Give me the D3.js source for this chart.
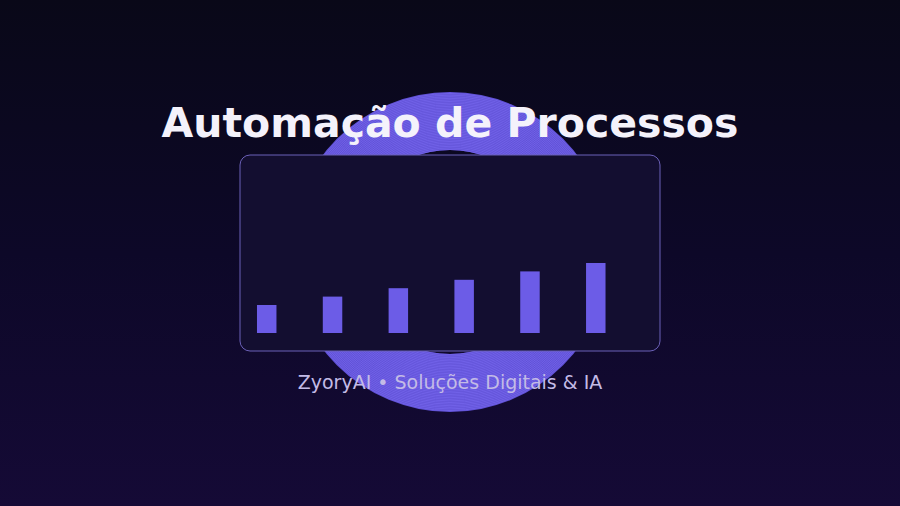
<!DOCTYPE html>
<html>
<head>
<meta charset="utf-8">
<script src="https://cdn.jsdelivr.net/npm/d3@7"></script>
<style>
  html, body { margin: 0; padding: 0; background: #0a0818; }
  svg { display: block; }
</style>
</head>
<body>
<svg id="chart" width="900" height="506"></svg>
<script>
// data
const steps = ["1", "2", "3", "4", "5", "6"];
const values = [40, 52, 64, 76, 88, 100];
const titleText = "Automação de Processos";
const subtitleText = "ZyoryAI • Soluções Digitais & IA";

const svg = d3.select("#chart");
const W = 900, H = 506;
const defs = svg.append("defs");

// background gradient
const bg = defs.append("linearGradient")
    .attr("id", "bg").attr("x1", 0).attr("y1", 0).attr("x2", 0).attr("y2", 1);
bg.append("stop").attr("offset", "0%").attr("stop-color", "#090818");
bg.append("stop").attr("offset", "50%").attr("stop-color", "#0d0828");
bg.append("stop").attr("offset", "100%").attr("stop-color", "#150a36");
svg.append("rect").attr("width", W).attr("height", H).attr("fill", "url(#bg)");

// ring behind the card
const cx = 450, cy = 252, rIn = 102, rOut = 160;
const ring = svg.append("g").attr("transform", `translate(${cx},${cy})`);
ring.append("path")
    .attr("d", d3.arc()({innerRadius: rIn, outerRadius: rOut, startAngle: 0, endAngle: 2 * Math.PI}))
    .attr("fill", "#6152d6");
ring.selectAll("circle")
    .data(d3.range(rIn + 0.5, rOut, 1.6))
    .join("circle")
    .attr("r", d => d)
    .attr("fill", "none")
    .attr("stroke", "#7363ea")
    .attr("stroke-width", 0.9);

// title
svg.append("text")
    .attr("x", 450).attr("y", 137)
    .attr("text-anchor", "middle")
    .attr("fill", "#f4f2fb")
    .style("font-family", "DejaVu Sans, sans-serif")
    .style("font-weight", "bold")
    .style("font-size", "41px")
    .text(titleText);

// card
const card = {x: 240, y: 155, w: 420, h: 196};
svg.append("rect")
    .attr("x", card.x).attr("y", card.y)
    .attr("width", card.w).attr("height", card.h)
    .attr("rx", 10)
    .attr("fill", "#130e30")
    .attr("stroke", "#6b60b8")
    .attr("stroke-width", 1);

// bars
const x = d3.scaleBand()
    .domain(steps)
    .range([card.x, 622.5])
    .paddingInner(0.704)
    .paddingOuter(0.258);
const y = d3.scaleLinear()
    .domain([0, 100])
    .range([333, 263]);

svg.append("g").selectAll("rect")
    .data(values)
    .join("rect")
    .attr("x", (d, i) => x(steps[i]))
    .attr("y", d => y(d))
    .attr("width", x.bandwidth())
    .attr("height", d => y(0) - y(d))
    .attr("fill", "#6c5ce7");

// subtitle
svg.append("text")
    .attr("x", 450).attr("y", 389)
    .attr("text-anchor", "middle")
    .attr("fill", "#c3bbe6")
    .style("font-family", "DejaVu Sans, sans-serif")
    .style("font-size", "19px")
    .text(subtitleText);
</script>
</body>
</html>
